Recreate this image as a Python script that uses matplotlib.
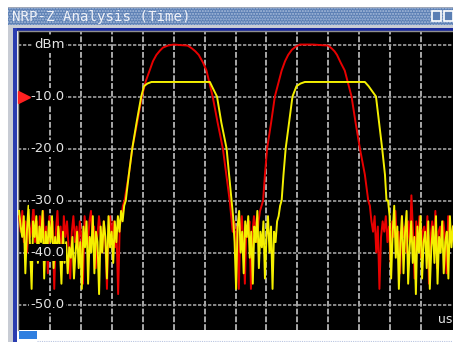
# NRP-Z Analysis (Time) - power envelope of two pulses, reference vs. measured
import numpy as np
import matplotlib.pyplot as plt
from matplotlib.patches import Rectangle
import matplotlib.transforms as mtransforms

# -----------------------------
# Data (x in grid divisions, y in dBm)
# -----------------------------
y_ticks = [0, -10, -20, -30, -40, -50]
y_labels = ["dBm", "-10.0", "-20.0", "-30.0", "-40.0", "-50.0"]
ref_level = -10

# red trace: pulse edges
red_p1_x = [3.41, 3.55, 3.66, 3.82, 3.97, 4.10, 4.22, 4.33, 4.44, 4.55, 4.65, 4.81,
            5.00, 5.20, 5.45, 5.58, 5.70, 5.81, 5.95, 6.06, 6.16, 6.26, 6.42, 6.59, 6.70, 6.81]
red_p1_y = [-30, -25, -20, -15, -10, -7, -5, -3.2, -2, -1.2, -0.6, -0.2,
            0, -0.1, -0.2, -0.7, -1.3, -2, -3.5, -5, -7.5, -10, -15, -20, -25, -30]
red_p2_x = [7.89, 7.95, 8.02, 8.15, 8.27, 8.38, 8.49, 8.60, 8.70, 8.82, 8.95, 9.08,
            9.50, 9.99, 10.10, 10.20, 10.28, 10.40, 10.53, 10.64, 10.75, 10.88, 11.02, 11.18, 11.29]
red_p2_y = [-30, -25, -20, -15, -10, -7.5, -5, -3.2, -2, -1, -0.4, 0,
            0, -0.2, -0.7, -1.3, -2, -3.5, -5, -7.5, -10, -15, -20, -25, -30]

# yellow trace: pulse edges
yel_p1_x = [3.45, 3.55, 3.66, 3.80, 3.95, 4.04, 4.15, 4.28, 6.17, 6.25, 6.40, 6.54, 6.71, 6.79, 6.87]
yel_p1_y = [-30, -25, -20, -15, -10, -8, -7.5, -7.2, -7.2, -8.2, -10, -15, -20, -25, -30]
yel_p2_x = [8.49, 8.55, 8.62, 8.73, 8.84, 8.97, 9.10, 9.24, 11.18, 11.30, 11.42, 11.54, 11.64, 11.74, 11.83, 11.88]
yel_p2_y = [-30, -25, -20, -15, -10, -8, -7.5, -7.2, -7.2, -8, -9, -10, -15, -20, -25, -30]

# noise floor samples (dBm)
red_n1 = [-33, -36, -32, -38, -34, -40, -33, -37, -35, -31, -38, -34, -41, -33, -36, -32, -39,
          -35, -44, -33, -37, -34, -47, -36, -32, -38, -35, -42, -33, -37, -34, -39, -45, -36,
          -33, -38, -35, -40, -34, -37, -46, -33, -36, -39, -34, -32, -38, -35, -43, -37, -33,
          -36, -40, -34, -38, -47, -35, -33, -37, -34, -39, -36, -48, -35, -33, -31]
yel_n1 = [-32, -35, -37, -33, -44, -36, -31, -39, -47, -34, -37, -33, -42, -35, -38, -32, -45,
          -36, -40, -34, -38, -33, -43, -37, -41, -35, -39, -46, -36, -42, -38, -44, -39, -41,
          -37, -45, -40, -36, -43, -38, -47, -35, -39, -34, -46, -37, -40, -33, -44, -36, -38,
          -48, -35, -40, -34, -37, -45, -33, -39, -36, -42, -34, -38, -33, -36, -32, -34, -31]
red_n2 = [-33, -36, -34, -40, -35, -47, -36, -33, -38, -46, -35, -37, -34, -47, -36, -33,
          -35, -38, -34, -32, -31]
yel_n2 = [-33, -38, -47, -35, -32, -40, -36, -44, -34, -37, -33, -41, -36, -46, -35, -38,
          -32, -43, -36, -39, -34, -45, -37, -33, -40, -35, -47, -36, -38, -34, -33, -31]
red_n3 = [-31, -34, -36, -33, -40, -35, -47, -37, -34, -36, -33, -38, -35, -42, -34, -37,
          -32, -39, -36, -44, -33, -37, -35, -40, -34, -38, -29, -36, -45, -34, -38, -33,
          -41, -36, -35, -39, -33, -46, -37, -34, -38, -32, -43, -36, -35, -39, -34, -37,
          -44, -33, -36, -38, -35]
yel_n3 = [-30, -33, -45, -36, -31, -41, -35, -47, -38, -33, -44, -36, -32, -46, -39, -34,
          -42, -37, -48, -35, -40, -33, -45, -38, -36, -43, -34, -47, -39, -35, -42, -33,
          -46, -37, -40, -34, -44, -38, -36, -45, -33, -39, -35]

X_MIN, X_MAX = -0.05, 14.03
Y_MIN, Y_MAX = -54.9, 2.7


def between(a, b, vals):
    # spread noise samples evenly between two pulse edges
    return list(np.linspace(a, b, len(vals) + 2)[1:-1])


def build_trace(p1x, p1y, p2x, p2y, n1, n2, n3):
    xs = between(X_MIN, p1x[0], n1) + p1x + between(p1x[-1], p2x[0], n2) + p2x
    ys = n1 + p1y + n2 + p2y
    xs = xs + between(p2x[-1], X_MAX + 0.05, n3)
    ys = ys + n3
    return xs, ys


red_x, red_y = build_trace(red_p1_x, red_p1_y, red_p2_x, red_p2_y, red_n1, red_n2, red_n3)
yel_x, yel_y = build_trace(yel_p1_x, yel_p1_y, yel_p2_x, yel_p2_y, yel_n1, yel_n2, yel_n3)

# -----------------------------
# Figure and window chrome
# -----------------------------
W, H = 453, 342
fig = plt.figure(figsize=(W / 100, H / 100), dpi=100)
fig.patch.set_facecolor("white")

bg = fig.add_axes([0, 0, 1, 1])
bg.set_xlim(0, W)
bg.set_ylim(H, 0)
bg.axis("off")

# title bar
bg.add_patch(Rectangle((8, 7), W - 8, 18, facecolor="#5b7fb4", edgecolor="#a9bddc",
                       hatch="......", linewidth=0))
bg.add_patch(Rectangle((8, 7), W - 8, 1, facecolor="#a0a8b8", linewidth=0))
bg.text(12, 16.5, "NRP-Z Analysis (Time)", family="DejaVu Sans Mono", fontsize=10.2,
        color="#f0f2f8", va="center", ha="left")
bg.add_patch(Rectangle((432, 11), 9, 10, facecolor="#5b7fb4", edgecolor="white", linewidth=1.2))
bg.add_patch(Rectangle((444, 11), 9, 10, facecolor="#5b7fb4", edgecolor="white", linewidth=1.2))

# frame under title and left border
bg.add_patch(Rectangle((8, 25), W - 8, 3, facecolor="#c8ccd4", linewidth=0))
bg.add_patch(Rectangle((13, 28), W - 13, 2.5, facecolor="#1a2a9c", linewidth=0))
bg.add_patch(Rectangle((8, 25), 5, H - 25, facecolor="#c8ccd4", linewidth=0))
bg.add_patch(Rectangle((13, 28), 4, H - 28, facecolor="#2a3cb0", linewidth=0))

# bottom status strip
bg.add_patch(Rectangle((17, 330), W - 17, 12, facecolor="white", linewidth=0))
bg.add_patch(Rectangle((19, 331), 18, 8, facecolor="#2f7fe0", linewidth=0))
bg.plot([37, W], [340.5, 340.5], color="#b8c4e0", lw=0.8, ls=(0, (1, 1)))

# -----------------------------
# Plot area
# -----------------------------
ax = fig.add_axes([17.5 / W, (H - 330) / H, (W - 17.5) / W, (330 - 30.5) / H])
ax.set_facecolor("black")
ax.set_xlim(X_MIN, X_MAX)
ax.set_ylim(Y_MIN, Y_MAX)

ax.set_xticks(range(1, 14))
ax.set_yticks(y_ticks)
ax.xaxis.grid(True, color="#a8a8a8", linestyle=(0, (3, 1)), linewidth=1.4)
ax.yaxis.grid(True, color="#a0a0a0", linestyle=(0, (2, 1)), linewidth=1.2)
ax.tick_params(length=0, labelleft=False, labelbottom=False)
for side in ["right", "bottom"]:
    ax.spines[side].set_visible(False)
for side in ["left", "top"]:
    ax.spines[side].set_color("#909090")
    ax.spines[side].set_linewidth(1)

ax.plot(red_x, red_y, color="#e80000", linewidth=1.4, zorder=3)
ax.plot(yel_x, yel_y, color="#f4f000", linewidth=1.4, zorder=4)

# y labels inside the plot, on black boxes
lab_tr = mtransforms.blended_transform_factory(ax.transAxes, ax.transData)
for val, lab in zip(y_ticks, y_labels):
    ax.text(47 / (W - 17.5), val, lab, transform=lab_tr, ha="right", va="center",
            fontsize=9.5, color="#e4e4e4", zorder=6,
            bbox=dict(facecolor="black", edgecolor="none", pad=1.2))

# reference level marker
ax.plot([6 / (W - 17.5)], [ref_level], marker=">", markersize=8, color="#ff2020",
        transform=lab_tr, zorder=7, clip_on=False)

# time unit
ax.text(0.998, 0.012, "us", transform=ax.transAxes, ha="right", va="bottom",
        fontsize=9, color="#e4e4e4", zorder=6)

fig.savefig("out.png", dpi=100, facecolor=fig.get_facecolor())
